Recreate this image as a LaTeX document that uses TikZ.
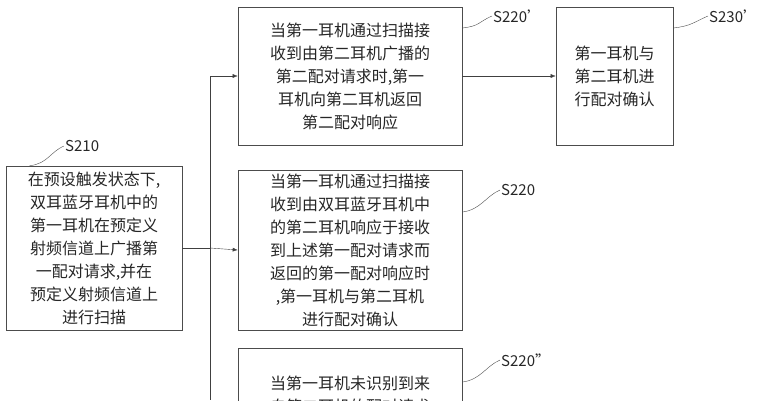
\documentclass[tikz,border=0pt]{standalone}
\usepackage{fontspec}
\setmainfont{Noto Sans CJK SC}
\usetikzlibrary{arrows.meta}
\begin{document}
\begin{tikzpicture}[x=1pt,y=-1pt,
    box/.style={rectangle, draw=black!70, semithick, align=center, inner sep=2pt,
      font=\fontsize{16}{23}\selectfont, text=black!85},
    arrow/.style={-{Latex[length=5pt,width=4pt]}, black!75},
    lbl/.style={font=\fontsize{15}{18}\selectfont, text=black!85, inner sep=1pt, anchor=west},
    tick/.style={black!70}
]
    \useasboundingbox (0,0) rectangle (760,400);
    \clip (0,0) rectangle (760,400);
    % Nodos
    \node[box, minimum width=176, minimum height=164] (s210) at (94,248)
      {在预设触发状态下,\\双耳蓝牙耳机中的\\第一耳机在预定义\\射频信道上广播第\\一配对请求,并在\\预定义射频信道上\\进行扫描};
    \node[box, minimum width=224, minimum height=138] (s220a) at (350,76)
      {当第一耳机通过扫描接\\收到由第二耳机广播的\\第二配对请求时,第一\\耳机向第二耳机返回\\第二配对响应};
    \node[box, minimum width=117, minimum height=138] (s230a) at (614.5,76)
      {第一耳机与\\第二耳机进\\行配对确认};
    \node[box, minimum width=224, minimum height=160] (s220) at (350,250)
      {当第一耳机通过扫描接\\收到由双耳蓝牙耳机中\\的第二耳机响应于接收\\到上述第一配对请求而\\返回的第一配对响应时\\,第一耳机与第二耳机\\进行配对确认};
    \node[box, minimum width=224, minimum height=160, anchor=north] (s220b) at (350,348)
      {当第一耳机未识别到来\\自第二耳机的配对请求\\\ \\\ \\\ };
    \coordinate (bus) at (210,248);
    \coordinate (top) at (210,76);
    \coordinate (bot) at (210,400);
    \node[lbl] (l210) at (64,146) {S210};
    \node[lbl] (l220a) at (492,16) {S220'};
    \node[lbl] (l230a) at (708,16) {S230'};
    \node[lbl] (l220) at (500,190) {S220};
    \node[lbl] (l220b) at (500,360) {S220''};

    % Flechas
    \draw[black!75] (s210.east) -- (bus);
    \draw[black!75] (top) -- (bot);
    \draw[arrow] (top) -- (s220a.west);
    \draw[arrow] (bus) -- (s220.west);
    \draw[arrow] (s220a.east) -- (s230a.west);
    \draw[tick] (s210.north west) ++(24,0) coordinate (t1) (t1) .. controls +(18,-2) and +(-14,6) .. (l210.west);
    \draw[tick] (s220a.east) ++(0,-48) coordinate (t2) (t2) .. controls +(18,-2) and +(-14,6) .. (l220a.west);
    \draw[tick] (s230a.east) ++(0,-48) coordinate (t3) (t3) .. controls +(18,-2) and +(-14,6) .. (l230a.west);
    \draw[tick] (s220.east) ++(0,-38) coordinate (t4) (t4) .. controls +(18,-2) and +(-14,6) .. (l220.west);
    \draw[tick] (s220b.north east) ++(0,34) coordinate (t5) (t5) .. controls +(18,-2) and +(-14,6) .. (l220b.west);
\end{tikzpicture}
\end{document}
